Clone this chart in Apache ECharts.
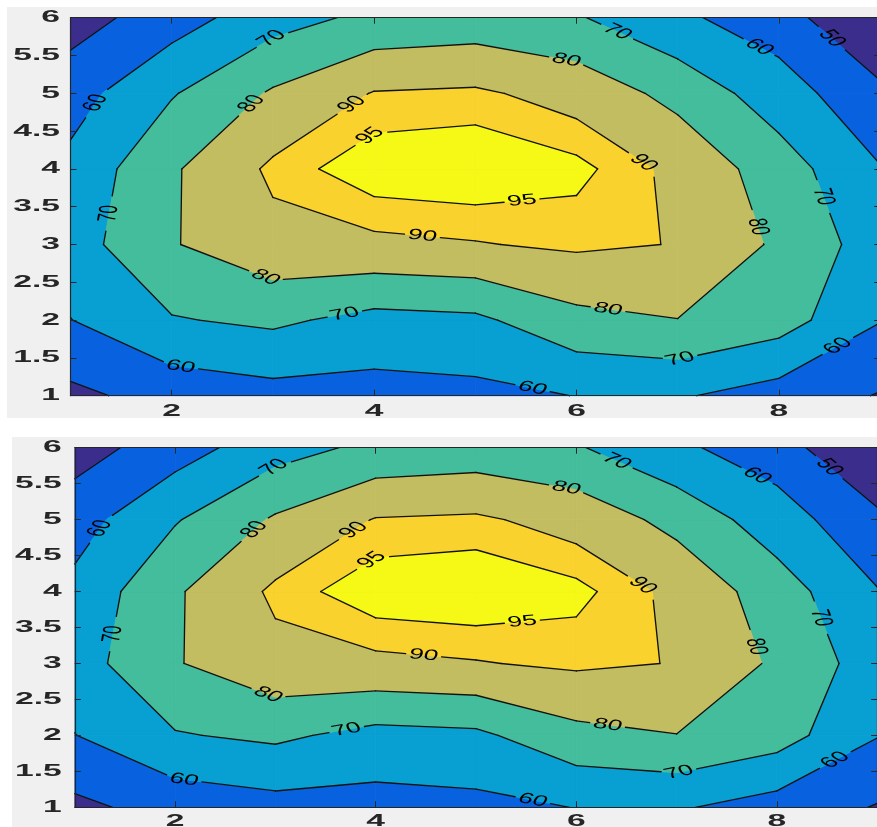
<!DOCTYPE html>
<html>
<head>
<meta charset="utf-8">
<script src="https://cdn.jsdelivr.net/npm/echarts@6/dist/echarts.min.js"></script>
<style>
  html, body { margin: 0; padding: 0; background: #ffffff; }
  #chart { width: 877px; height: 827px; }
</style>
</head>
<body>
<div id="chart"></div>
<script>
// ---- data -------------------------------------------------------------
const xValues = [1, 2, 3, 4, 5, 6, 7, 8, 9];
const yValues = [1, 2, 3, 4, 5, 6];

// surface values, one row per y value (x = 1 … 9)
const zAtY1 = [47.7, 53.8, 56.5, 56.3, 57.3, 60.2, 61.0, 55.7, 49.4];
const zAtY2 = [59.8, 69.3, 71.9, 66.8, 68.0, 77.1, 79.8, 74.5, 60.4];
const zAtY3 = [65.5, 79.3, 87.2, 88.1, 89.5, 91.5, 89.7, 78.3, 64.9];
const zAtY4 = [62.6, 78.7, 91.7, 99.0, 100.0, 96.9, 87.8, 74.8, 60.5];
const zAtY5 = [55.8, 69.2, 81.2, 90.5, 91.4, 86.5, 76.9, 64.6, 52.5];
const zAtY6 = [45.6, 55.3, 66.0, 72.3, 74.0, 70.9, 61.7, 54.9, 38.0];

const contourLevels = [50, 60, 70, 80, 90, 95];
const xTickValues = [2, 4, 6, 8];
const yTickValues = [1, 1.5, 2, 2.5, 3, 3.5, 4, 4.5, 5, 5.5, 6];

// ---- styling ----------------------------------------------------------
const bandColors = ['#3a2d8c', '#0862e0', '#089fd2', '#43bd9b', '#c3bd62', '#f9d22d', '#f6f816'];
const axisColor = '#262626';
const fontFamily = "'Liberation Sans', Arial, sans-serif";
const textStretch = 2.1;      // horizontal stretch of tick labels
const labelStretch = 1.75;    // horizontal stretch of contour labels
const labelGap = 18;          // half-length of the break in a contour line under its label

// approximate spots where each contour carries its inline label: [level, x, y]
const labelSpots = [
  [70, 3.0, 5.7], [60, 1.33, 4.8], [80, 2.8, 4.85], [90, 3.76, 4.9], [95, 3.97, 4.42],
  [95, 5.46, 3.61], [90, 4.48, 3.15], [90, 6.66, 4.08], [80, 5.9, 5.44], [70, 6.4, 5.81],
  [60, 7.78, 5.55], [50, 8.51, 5.71], [70, 8.41, 3.62], [80, 7.78, 3.23], [80, 2.93, 2.58],
  [70, 1.38, 3.41], [70, 3.71, 2.09], [80, 6.31, 2.13], [70, 7.02, 1.52], [60, 8.59, 1.64],
  [60, 5.57, 1.13], [60, 2.09, 1.40]
];

// two stacked axes boxes
const panels = [
  { left: 70.5, top: 17.7, width: 809.6, height: 378, yLabelGap: 10.5, xLabelGap: 16 },
  { left: 74.8, top: 447.7, width: 802.4, height: 359.6, yLabelGap: 13, xLabelGap: 14.5 }
];

// ---- contour geometry (data space) ------------------------------------
const zGrid = [zAtY1, zAtY2, zAtY3, zAtY4, zAtY5, zAtY6];

const cells = [];
for (let j = 0; j < yValues.length - 1; j++) {
  for (let i = 0; i < xValues.length - 1; i++) {
    cells.push([
      [xValues[i], yValues[j], zGrid[j][i]],
      [xValues[i + 1], yValues[j], zGrid[j][i + 1]],
      [xValues[i + 1], yValues[j + 1], zGrid[j + 1][i + 1]],
      [xValues[i], yValues[j + 1], zGrid[j + 1][i]]
    ]);
  }
}

// Sutherland–Hodgman clip of a cell polygon against z >= level (or z <= level)
function clipPoly(poly, level, keepAbove) {
  const out = [];
  const n = poly.length;
  for (let k = 0; k < n; k++) {
    const a = poly[k], b = poly[(k + 1) % n];
    const ina = keepAbove ? a[2] >= level : a[2] <= level;
    const inb = keepAbove ? b[2] >= level : b[2] <= level;
    if (ina) out.push(a);
    if (ina !== inb) {
      const t = (level - a[2]) / (b[2] - a[2]);
      out.push([a[0] + t * (b[0] - a[0]), a[1] + t * (b[1] - a[1]), level]);
    }
  }
  return out;
}

const bandPolys = [];
cells.forEach(c => {
  for (let k = 0; k <= contourLevels.length; k++) {
    let p = c;
    if (k > 0) p = clipPoly(p, contourLevels[k - 1], true);
    if (p.length >= 3 && k < contourLevels.length) p = clipPoly(p, contourLevels[k], false);
    if (p.length >= 3) bandPolys.push({ band: k, pts: p });
  }
});

// marching squares: iso-segments of one cell at one level
function cellSegments(c, L) {
  const above = c.map(p => p[2] >= L);
  const cross = [];
  for (let e = 0; e < 4; e++) {
    const a = c[e], b = c[(e + 1) % 4];
    if (above[e] !== above[(e + 1) % 4]) {
      const t = (L - a[2]) / (b[2] - a[2]);
      cross[e] = [a[0] + t * (b[0] - a[0]), a[1] + t * (b[1] - a[1])];
    }
  }
  const edges = [0, 1, 2, 3].filter(e => cross[e]);
  if (edges.length === 2) return [[cross[edges[0]], cross[edges[1]]]];
  if (edges.length === 4) {
    const mid = (c[0][2] + c[1][2] + c[2][2] + c[3][2]) / 4;
    if ((mid >= L) === above[0]) return [[cross[0], cross[1]], [cross[2], cross[3]]];
    return [[cross[3], cross[0]], [cross[1], cross[2]]];
  }
  return [];
}

const isoSegments = {};
contourLevels.forEach(L => {
  isoSegments[L] = [];
  cells.forEach(c => cellSegments(c, L).forEach(s => isoSegments[L].push(s)));
});

// remove the part of segment p-q that lies inside the circle (c, r)
function cutByCircle(p, q, c, r) {
  const dx = q[0] - p[0], dy = q[1] - p[1];
  const a = dx * dx + dy * dy;
  if (a < 1e-12) return [[p, q]];
  const fx = p[0] - c[0], fy = p[1] - c[1];
  const b = dx * fx + dy * fy;
  const cc = fx * fx + fy * fy - r * r;
  const disc = b * b - a * cc;
  if (disc <= 0) return [[p, q]];
  const s = Math.sqrt(disc);
  const t1 = (-b - s) / a, t2 = (-b + s) / a;
  if (t1 >= 1 || t2 <= 0) return [[p, q]];
  const pieces = [];
  const at = t => [p[0] + t * dx, p[1] + t * dy];
  if (t1 > 0) pieces.push([p, at(t1)]);
  if (t2 < 1) pieces.push([at(t2), q]);
  return pieces;
}

function makeRenderer(panelIndex) {
  const cfg = panels[panelIndex];
  return function (params, api) {
    const children = [];

    // filled bands
    bandPolys.forEach(bp => {
      const pts = bp.pts.map(p => api.coord([p[0], p[1]]));
      const col = bandColors[bp.band];
      children.push({
        type: 'polygon',
        shape: { points: pts },
        style: { fill: col, stroke: col, lineWidth: 0.8 },
        silent: true
      });
    });

    // iso-lines in pixel space
    const segPx = {};
    contourLevels.forEach(L => {
      segPx[L] = isoSegments[L].map(s => [api.coord(s[0]), api.coord(s[1])]);
    });

    // snap each label spot onto its contour
    const labels = labelSpots.map(([lev, hx, hy]) => {
      const h = api.coord([hx, hy]);
      let best = null, bd = Infinity;
      segPx[lev].forEach(([p, q]) => {
        const dx = q[0] - p[0], dy = q[1] - p[1];
        const len2 = dx * dx + dy * dy || 1e-9;
        let t = ((h[0] - p[0]) * dx + (h[1] - p[1]) * dy) / len2;
        t = Math.max(0, Math.min(1, t));
        const x = p[0] + t * dx, y = p[1] + t * dy;
        const d = (x - h[0]) * (x - h[0]) + (y - h[1]) * (y - h[1]);
        if (d < bd) { bd = d; best = { x, y, dx, dy, lev }; }
      });
      return best;
    }).filter(Boolean);

    // contour lines, broken where a label sits
    contourLevels.forEach(L => {
      const own = labels.filter(lb => lb.lev === L);
      segPx[L].forEach(([p, q]) => {
        let pieces = [[p, q]];
        own.forEach(lb => {
          const next = [];
          pieces.forEach(([a, b]) => cutByCircle(a, b, [lb.x, lb.y], labelGap).forEach(z => next.push(z)));
          pieces = next;
        });
        pieces.forEach(([a, b]) => {
          children.push({
            type: 'line',
            shape: { x1: a[0], y1: a[1], x2: b[0], y2: b[1] },
            style: { stroke: '#111111', lineWidth: 1.35, lineCap: 'round' },
            silent: true
          });
        });
      });
    });

    // inline contour labels
    labels.forEach(lb => {
      let ang = Math.atan2(lb.dy, lb.dx / labelStretch);
      if (ang > Math.PI / 2) ang -= Math.PI;
      if (ang <= -Math.PI / 2) ang += Math.PI;
      children.push({
        type: 'group',
        x: lb.x, y: lb.y,
        scaleX: labelStretch,
        children: [{
          type: 'text',
          rotation: -ang,
          style: {
            text: String(lb.lev), x: 0, y: 0,
            align: 'center', verticalAlign: 'middle',
            font: '15px ' + fontFamily, fill: '#000000'
          },
          silent: true
        }]
      });
    });

    // tick labels
    yTickValues.forEach(v => {
      const pt = api.coord([xValues[0], v]);
      children.push({
        type: 'text',
        x: pt[0] - cfg.yLabelGap, y: pt[1],
        scaleX: textStretch,
        style: {
          text: String(v), x: 0, y: 0, align: 'right', verticalAlign: 'middle',
          font: 'bold 16px ' + fontFamily, fill: axisColor
        },
        silent: true
      });
    });
    xTickValues.forEach(v => {
      const pt = api.coord([v, yValues[0]]);
      children.push({
        type: 'text',
        x: pt[0], y: pt[1] + cfg.xLabelGap,
        scaleX: textStretch,
        style: {
          text: String(v), x: 0, y: 0, align: 'center', verticalAlign: 'middle',
          font: 'bold 16px ' + fontFamily, fill: axisColor
        },
        silent: true
      });
    });

    return { type: 'group', children };
  };
}

// ---- chart options ----------------------------------------------------
const grids = [], xAxes = [], yAxes = [], seriesList = [];
panels.forEach((cfg, i) => {
  grids.push({
    left: cfg.left, top: cfg.top, width: cfg.width, height: cfg.height,
    containLabel: false, outerBoundsMode: 'none', show: false
  });
  ['bottom', 'top'].forEach(pos => {
    xAxes.push({
      type: 'value', gridIndex: i, position: pos, min: 1, max: 9, z: 3,
      axisLine: { show: true, onZero: false, lineStyle: { color: axisColor, width: 1.2 } },
      axisTick: { show: true, inside: true, length: 6, customValues: xTickValues, lineStyle: { color: axisColor } },
      axisLabel: { show: false },
      splitLine: { show: false }
    });
  });
  ['left', 'right'].forEach(pos => {
    yAxes.push({
      type: 'value', gridIndex: i, position: pos, min: 1, max: 6, interval: 0.5, z: 3,
      axisLine: { show: true, onZero: false, lineStyle: { color: axisColor, width: 1.2 } },
      axisTick: { show: true, inside: true, length: 6, customValues: yTickValues, lineStyle: { color: axisColor } },
      axisLabel: { show: false },
      splitLine: { show: false }
    });
  });
  seriesList.push({
    type: 'custom',
    xAxisIndex: 2 * i,
    yAxisIndex: 2 * i,
    data: [[1, 1]],
    clip: false,
    silent: true,
    z: 2,
    renderItem: makeRenderer(i)
  });
});

const chart = echarts.init(document.getElementById('chart'), null, { renderer: 'canvas' });
chart.setOption({
  animation: false,
  backgroundColor: '#ffffff',
  graphic: [
    { type: 'rect', z: -10, silent: true, shape: { x: 7, y: 7, width: 870, height: 411 }, style: { fill: '#f0f0f0' } },
    { type: 'rect', z: -10, silent: true, shape: { x: 12, y: 437, width: 865, height: 390 }, style: { fill: '#f0f0f0' } }
  ],
  grid: grids,
  xAxis: xAxes,
  yAxis: yAxes,
  series: seriesList
});
</script>
</body>
</html>
